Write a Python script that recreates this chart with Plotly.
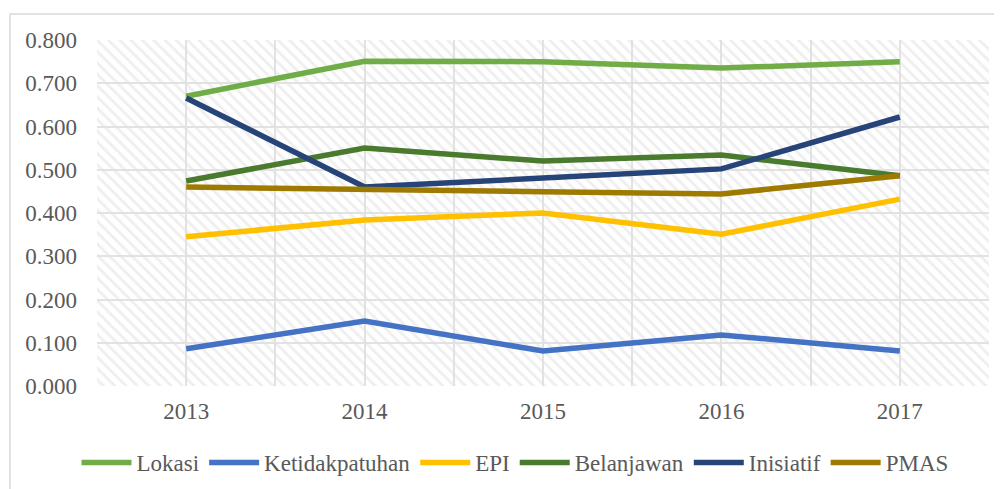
import plotly.graph_objects as go

years = ["2013", "2014", "2015", "2016", "2017"]
lokasi = [0.670, 0.751, 0.750, 0.735, 0.750]
ketidakpatuhan = [0.086, 0.150, 0.081, 0.118, 0.081]
epi = [0.345, 0.384, 0.400, 0.351, 0.432]
belanjawan = [0.474, 0.550, 0.520, 0.534, 0.486]
inisiatif = [0.666, 0.460, 0.481, 0.502, 0.622]
pmas = [0.460, 0.453, 0.449, 0.444, 0.486]

series = [
    ("Lokasi", lokasi, "#70AD47"),
    ("Ketidakpatuhan", ketidakpatuhan, "#4472C4"),
    ("EPI", epi, "#FFC000"),
    ("Belanjawan", belanjawan, "#4A7A2E"),
    ("Inisiatif", inisiatif, "#264478"),
    ("PMAS", pmas, "#9E7A00"),
]

y_ticks = [0.0, 0.1, 0.2, 0.3, 0.4, 0.5, 0.6, 0.7, 0.8]
y_max = 0.8

xi = list(range(len(years)))
x_lo, x_hi = -0.5, len(years) - 0.5

fig = go.Figure()

# hatched plot background
fig.add_trace(go.Scatter(
    x=[x_lo, x_hi, x_hi, x_lo, x_lo],
    y=[0, 0, y_max, y_max, 0],
    mode="lines", line=dict(width=0, color="rgba(0,0,0,0)"),
    fill="toself", fillcolor="rgba(255,255,255,0)",
    fillpattern=dict(shape="\\", fgcolor="#e0e0e0", bgcolor="rgba(255,255,255,0)",
                     size=8, solidity=0.36),
    showlegend=False, hoverinfo="skip",
))

for name, vals, color in series:
    fig.add_trace(go.Scatter(
        x=xi, y=vals, name=name, mode="lines",
        line=dict(color=color, width=5.5),
    ))

tickvals = []
ticktext = []
for i, yr in enumerate(years):
    tickvals += [i - 0.5, i]
    ticktext += ["", yr]
tickvals.append(x_hi)
ticktext.append("")

font_family = '"Liberation Serif", "Times New Roman", serif'
fsize = 23

# page body has an 8px margin; figure size/margins compensate for it
W, H = 994, 481
pl, pr, pt, pb = 89, 13, 32, 103

fig.update_layout(
    width=W, height=H,
    margin=dict(l=pl, r=pr, t=pt, b=pb, autoexpand=False),
    paper_bgcolor="white", plot_bgcolor="white",
    font=dict(family=font_family, size=fsize, color="#595959"),
    xaxis=dict(
        range=[x_lo, x_hi], tickvals=tickvals, ticktext=ticktext,
        showgrid=True, gridcolor="#e2e2e2", gridwidth=1.5,
        zeroline=False, showline=False, ticks="", automargin=False,
        ticklabelstandoff=9,
        tickfont=dict(family=font_family, size=fsize, color="#595959"),
    ),
    yaxis=dict(
        range=[0, y_max], tickvals=y_ticks, tickformat=".3f",
        showgrid=True, gridcolor="#e2e2e2", gridwidth=1.5,
        zeroline=False, showline=False, ticks="", automargin=False,
        ticklabelstandoff=19,
        tickfont=dict(family=font_family, size=fsize, color="#595959"),
    ),
    legend=dict(
        orientation="h", x=(515 - 8) / W, xanchor="center", xref="container",
        y=1 - 433 / H, yanchor="top", yref="container",
        font=dict(family=font_family, size=fsize, color="#595959"), itemwidth=50,
        tracegroupgap=0,
    ),
    shapes=[dict(
        type="rect", xref="paper", yref="paper",
        x0=(2 - pl) / (W - pl - pr), x1=(W + 10 - pl) / (W - pl - pr),
        y0=-(pb + 20) / (H - pt - pb), y1=1 + (pt - 6) / (H - pt - pb),
        line=dict(color="#d9d9d9", width=1.5), fillcolor="rgba(0,0,0,0)",
        layer="below",
    )],
)

fig.write_html("out.html")
